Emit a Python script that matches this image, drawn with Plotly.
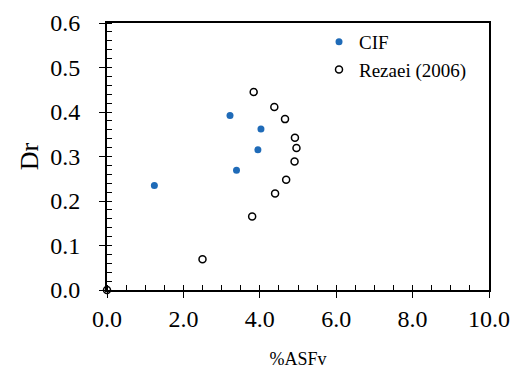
import plotly.graph_objects as go

cif_x = [1.24, 3.22, 4.03, 3.95, 3.39]
cif_y = [0.235, 0.392, 0.362, 0.315, 0.269]

rez_x = [0.0, 2.50, 3.80, 4.40, 4.69, 4.91, 4.96, 4.92, 4.66, 4.38, 3.84]
rez_y = [0.0, 0.069, 0.165, 0.217, 0.248, 0.289, 0.319, 0.342, 0.384, 0.411, 0.445]

x_ticks = [0, 2, 4, 6, 8, 10]
x_labels = ["0.0", "2.0", "4.0", "6.0", "8.0", "10.0"]
y_ticks = [0, 0.1, 0.2, 0.3, 0.4, 0.5, 0.6]
y_labels = ["0.0", "0.1", "0.2", "0.3", "0.4", "0.5", "0.6"]

FONT = "Liberation Serif"

fig = go.Figure()
fig.add_trace(go.Scatter(x=cif_x, y=cif_y, mode="markers", name="CIF",
                         marker=dict(size=7, color="#1f6bb8", line=dict(width=0)),
                         cliponaxis=False))
fig.add_trace(go.Scatter(x=rez_x, y=rez_y, mode="markers", name="Rezaei (2006)",
                         marker=dict(size=7, color="white", line=dict(width=1.5, color="black")),
                         cliponaxis=False))

fig.update_layout(
    width=518, height=371,
    margin=dict(l=107, r=29, t=23, b=81),
    paper_bgcolor="white", plot_bgcolor="white",
    font=dict(family=FONT, color="black"),
    showlegend=True,
    legend=dict(x=0.555, y=1.0, xanchor="left", yanchor="top",
                font=dict(size=19, family=FONT), bgcolor="rgba(0,0,0,0)",
                itemwidth=30, tracegroupgap=0),
    xaxis=dict(range=[0, 10], tickvals=x_ticks, ticktext=x_labels,
               showgrid=False, zeroline=False, automargin=False,
               showline=True, linecolor="black", linewidth=2, mirror=True,
               ticks="outside", ticklen=6, tickwidth=1, tickcolor="black",
               tickfont=dict(size=24, family=FONT),
               minor=dict(dtick=0.5, ticks="inside", ticklen=5, tickcolor="black", showgrid=False),
               title=dict(text="%ASFv", font=dict(size=18, family=FONT), standoff=22)),
    yaxis=dict(range=[0, 0.6], tickvals=y_ticks, ticktext=y_labels,
               showgrid=False, zeroline=False, automargin=False,
               showline=True, linecolor="black", linewidth=2, mirror=True,
               ticks="outside", ticklen=6, tickwidth=1, tickcolor="black",
               tickfont=dict(size=24, family=FONT), ticklabelstandoff=14,
               minor=dict(dtick=0.02, ticks="inside", ticklen=5, tickcolor="black", showgrid=False),
               title=dict(text="Dr", font=dict(size=26, family=FONT), standoff=4)),
)

fig.write_html("out.html")
